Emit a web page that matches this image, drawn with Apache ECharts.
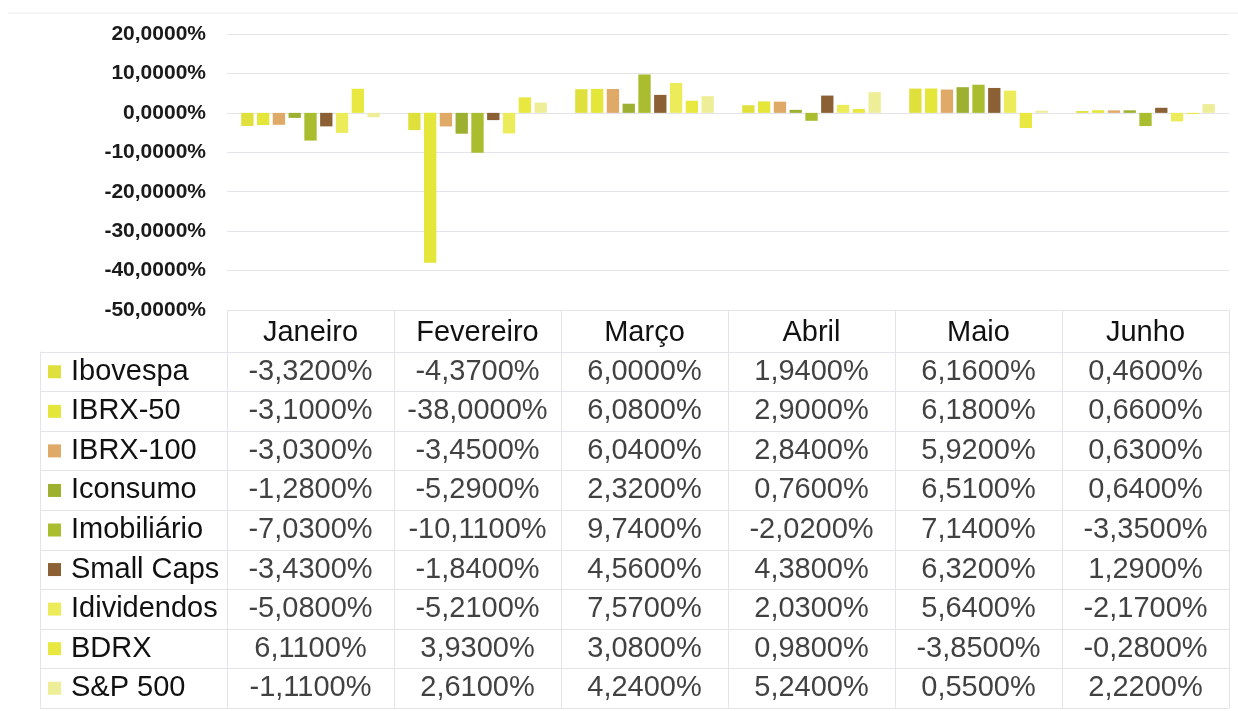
<!DOCTYPE html>
<html>
<head>
<meta charset="utf-8">
<script src="https://cdn.jsdelivr.net/npm/echarts@6/dist/echarts.min.js"></script>
<style>
html,body{margin:0;padding:0;background:#fff;}
#chart{width:1238px;height:711px;}
</style>
</head>
<body>
<div id="chart"></div>
<script>
var months = ['Janeiro', 'Fevereiro', 'Março', 'Abril', 'Maio', 'Junho'];
var seriesNames = ['Ibovespa', 'IBRX-50', 'IBRX-100', 'Iconsumo', 'Imobiliário', 'Small Caps', 'Idividendos', 'BDRX', 'S&P 500'];
var colors = ['#e0e03c', '#e4e63a', '#dfa968', '#9db02f', '#a9bd2f', '#8a6034', '#ecec5a', '#e8e840', '#eeee98'];

var ibovespa    = [-3.32, -4.37, 6.00, 1.94, 6.16, 0.46];
var ibrx50      = [-3.10, -38.00, 6.08, 2.90, 6.18, 0.66];
var ibrx100     = [-3.03, -3.45, 6.04, 2.84, 5.92, 0.63];
var iconsumo    = [-1.28, -5.29, 2.32, 0.76, 6.51, 0.64];
var imobiliario = [-7.03, -10.11, 9.74, -2.02, 7.14, -3.35];
var smallCaps   = [-3.43, -1.84, 4.56, 4.38, 6.32, 1.29];
var idividendos = [-5.08, -5.21, 7.57, 2.03, 5.64, -2.17];
var bdrx        = [6.11, 3.93, 3.08, 0.98, -3.85, -0.28];
var sp500       = [-1.11, 2.61, 4.24, 5.24, 0.55, 2.22];

var yTicks = {min: -50, max: 20, interval: 10};

var values = [ibovespa, ibrx50, ibrx100, iconsumo, imobiliario, smallCaps, idividendos, bdrx, sp500];

function fmt(v) {
  return v.toFixed(4).replace('.', ',') + '%';
}

var FONT = '"Liberation Sans", Arial, sans-serif';
var gridColor = '#e3e3ea';
var textColor = '#111111';

var barSeries = values.map(function (arr, i) {
  return {
    name: seriesNames[i],
    type: 'bar',
    xAxisIndex: 0,
    yAxisIndex: 0,
    data: arr,
    itemStyle: {color: colors[i]},
    barGap: '28%',
    barCategoryGap: '17%'
  };
});

var cellData = [];
values.forEach(function (arr, si) {
  arr.forEach(function (v, mi) {
    cellData.push([mi, si, v]);
  });
});

var rich = {n: {fontSize: 29, color: textColor, fontFamily: FONT, padding: [0, 0, 0, 10]}};
colors.forEach(function (c, i) {
  rich['m' + i] = {backgroundColor: c, width: 13, height: 13};
});

var chart = echarts.init(document.getElementById('chart'), null, {renderer: 'canvas'});
chart.setOption({
  animation: false,
  backgroundColor: '#ffffff',
  textStyle: {fontFamily: FONT},
  grid: [
    {left: 227, right: 9, top: 34, height: 276},
    {left: 227, right: 9, top: 310, height: 42},
    {left: 227, right: 9, top: 352, height: 356},
    {left: 40, width: 187, top: 352, height: 356}
  ],
  xAxis: [
    {
      gridIndex: 0, type: 'category', data: months,
      axisLine: {show: false}, axisTick: {show: false},
      axisLabel: {fontSize: 29, color: textColor, margin: 8, fontFamily: FONT},
      splitLine: {show: false}
    },
    {
      gridIndex: 1, type: 'category', data: months,
      axisLine: {show: false}, axisTick: {show: false}, axisLabel: {show: false},
      splitLine: {show: true, lineStyle: {color: gridColor, width: 1}}
    },
    {
      gridIndex: 2, type: 'category', data: months,
      axisLine: {show: false}, axisTick: {show: false}, axisLabel: {show: false},
      splitLine: {show: true, lineStyle: {color: gridColor, width: 1}}
    },
    {
      gridIndex: 3, type: 'value', min: 0, max: 1, show: false
    }
  ],
  yAxis: [
    {
      gridIndex: 0, type: 'value', min: yTicks.min, max: yTicks.max, interval: yTicks.interval,
      axisLine: {show: false}, axisTick: {show: false},
      axisLabel: {
        formatter: function (v) { return fmt(v); },
        fontSize: 21, fontWeight: 'bold', color: '#1a1a1a', margin: 21, fontFamily: FONT
      },
      splitLine: {show: true, lineStyle: {color: gridColor, width: 1}}
    },
    {
      gridIndex: 1, type: 'value', min: 0, max: 1, show: false
    },
    {
      gridIndex: 2, type: 'category', data: seriesNames, inverse: true,
      axisLine: {show: false}, axisTick: {show: false}, axisLabel: {show: false},
      splitLine: {show: true, lineStyle: {color: gridColor, width: 1}}
    },
    {
      gridIndex: 3, type: 'category', data: seriesNames, inverse: true,
      axisLine: {show: true, lineStyle: {color: gridColor, width: 1}},
      axisTick: {show: false},
      axisLabel: {
        inside: true, margin: 8, align: 'left',
        formatter: function (v, idx) { return '{m' + idx + '|}{n|' + v + '}'; },
        rich: rich
      },
      splitLine: {show: true, lineStyle: {color: gridColor, width: 1}}
    }
  ],
  series: barSeries.concat([
    {
      type: 'scatter',
      xAxisIndex: 2,
      yAxisIndex: 2,
      data: cellData,
      symbolSize: 1,
      itemStyle: {color: 'rgba(0,0,0,0)'},
      silent: true,
      label: {
        show: true,
        position: 'inside',
        fontSize: 29,
        color: textColor,
        fontFamily: FONT,
        formatter: function (p) { return fmt(p.value[2]); }
      }
    }
  ]),
  graphic: [
    {
      type: 'line', silent: true,
      shape: {x1: 8, y1: 13, x2: 1238, y2: 13},
      style: {stroke: '#ececf0', lineWidth: 1}
    }
  ]
});
</script>
</body>
</html>
